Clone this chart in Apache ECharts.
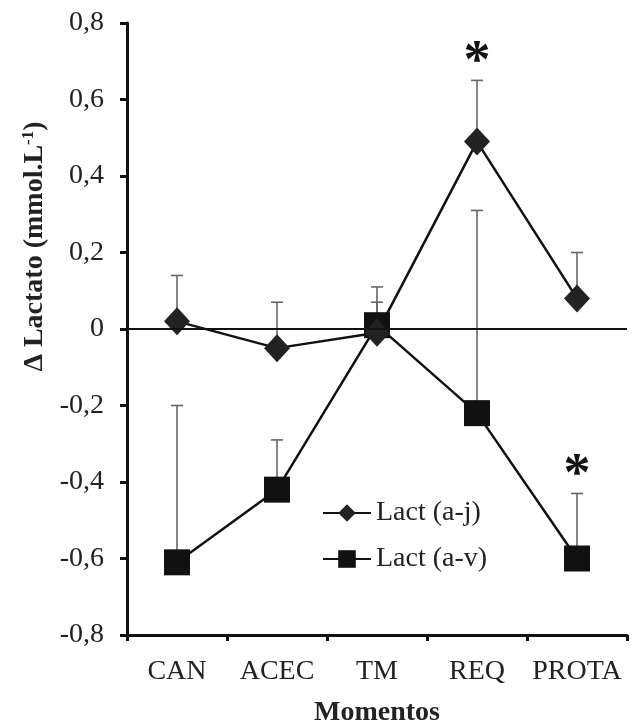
<!DOCTYPE html>
<html><head><meta charset="utf-8">
<script src="https://cdn.jsdelivr.net/npm/echarts@6/dist/echarts.min.js"></script>
<style>html,body{margin:0;padding:0;background:#fff}#c{width:632px;height:722px}</style>
</head><body><div id="c"></div>
<script>
const categories = ['CAN', 'ACEC', 'TM', 'REQ', 'PROTA'];
const lactAJ = [0.02, -0.05, -0.01, 0.49, 0.08];
const lactAJsd = [0.12, 0.12, 0.12, 0.16, 0.12];
const lactAJsig = [0, 0, 0, 1, 0];
const lactAV = [-0.61, -0.42, 0.01, -0.22, -0.60];
const lactAVsd = [0.41, 0.13, 0.06, 0.53, 0.17];
const lactAVsig = [0, 0, 0, 0, 1];
const yTicks = { min: -0.8, max: 0.8, interval: 0.2 };

const FONT = 'Liberation Serif';
const TXT = '#222';

function errData(means, sds, sig) {
  return means.map((m, i) => [i, m, m + sds[i], sig[i]]);
}
function renderErr(params, api) {
  const i = api.value(0);
  const p0 = api.coord([i, api.value(1)]);
  const p1 = api.coord([i, api.value(2)]);
  const cap = 6;
  const style = { stroke: '#666', lineWidth: 1.6 };
  const children = [
    { type: 'line', shape: { x1: p0[0], y1: p0[1], x2: p1[0], y2: p1[1] }, style },
    { type: 'line', shape: { x1: p1[0] - cap, y1: p1[1], x2: p1[0] + cap, y2: p1[1] }, style }
  ];
  if (api.value(3)) {
    children.push({ type: 'text', x: p1[0], y: p1[1] + 10,
      style: { text: '*', fill: '#111', font: 'bold 54px "' + FONT + '"', align: 'center', verticalAlign: 'bottom' } });
  }
  return { type: 'group', children };
}

const chart = echarts.init(document.getElementById('c'), null, { renderer: 'canvas' });
chart.setOption({
  animation: false,
  backgroundColor: '#fff',
  textStyle: { fontFamily: FONT, color: TXT },
  grid: { left: 127, right: 5, top: 23, bottom: 87, containLabel: false, outerBoundsMode: 'none' },
  legend: {
    orient: 'vertical', left: 322, top: 499, itemGap: 18, padding: 0,
    itemWidth: 48, itemHeight: 22,
    textStyle: { fontFamily: FONT, fontSize: 28, color: TXT, padding: [0, 0, 0, 0] },
    data: ['Lact (a-j)', 'Lact (a-v)']
  },
  xAxis: {
    type: 'category', data: categories, boundaryGap: true,
    name: 'Momentos', nameLocation: 'middle', nameGap: 64,
    nameTextStyle: { fontFamily: FONT, fontSize: 28, fontWeight: 'bold', color: TXT },
    axisLine: { onZero: false, lineStyle: { color: '#111', width: 3 } },
    axisTick: { show: true, interval: 0, length: 6, inside: false, lineStyle: { color: '#111', width: 3 } },
    axisLabel: { interval: 0, hideOverlap: false, fontFamily: FONT, fontSize: 28, color: TXT, margin: 23 },
    splitLine: { show: false }
  },
  yAxis: {
    type: 'value', min: yTicks.min, max: yTicks.max, interval: yTicks.interval,
    name: '{a|Δ Lactato (mmol.L}{s|-1}{a|)}', nameLocation: 'middle', nameGap: 78, nameRotate: 90,
    nameTextStyle: { padding: [0, 0, 0, 165], rich: {
      a: { fontFamily: FONT, fontSize: 28, fontWeight: 'bold', color: TXT },
      s: { fontFamily: FONT, fontSize: 17, fontWeight: 'bold', color: TXT, verticalAlign: 'top', padding: [0, 0, 12, 0] }
    } },
    axisLine: { show: true, onZero: false, lineStyle: { color: '#111', width: 3 } },
    axisTick: { show: true, length: 7, lineStyle: { color: '#111', width: 3 } },
    axisLabel: { fontFamily: FONT, fontSize: 28, color: TXT, margin: 23,
      formatter: v => (Math.abs(v) < 1e-9 ? '0' : v.toFixed(1).replace('.', ',')) },
    splitLine: { show: false }
  },
  series: [
    { type: 'custom', name: 'errAJ', renderItem: renderErr, data: errData(lactAJ, lactAJsd, lactAJsig), z: 1, silent: true },
    { type: 'custom', name: 'errAV', renderItem: renderErr, data: errData(lactAV, lactAVsd, lactAVsig), z: 1, silent: true },
    {
      type: 'line', name: 'Lact (a-v)', data: lactAV, z: 3,
      symbol: 'rect', symbolSize: 26,
      lineStyle: { color: '#111', width: 2.5 }, itemStyle: { color: '#111' },
      markLine: { silent: true, symbol: 'none', label: { show: false },
        lineStyle: { color: '#111', width: 2, type: 'solid' }, data: [{ yAxis: 0 }] }
    },
    {
      type: 'line', name: 'Lact (a-j)', data: lactAJ, z: 4,
      symbol: 'diamond', symbolSize: [26, 28],
      lineStyle: { color: '#111', width: 2.5 }, itemStyle: { color: '#222' }
    }
  ]
});
</script></body></html>
